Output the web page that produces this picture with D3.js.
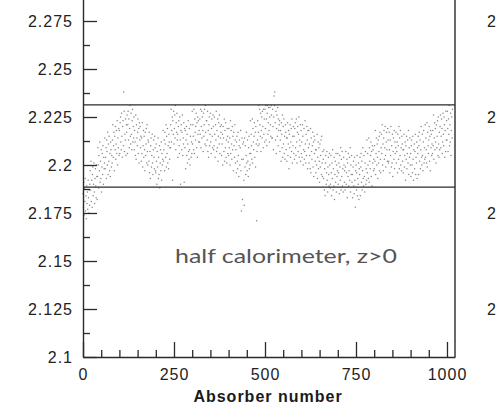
<!DOCTYPE html>
<html><head><meta charset="utf-8">
<script src="https://cdn.jsdelivr.net/npm/d3@7"></script>
<style>
html,body{margin:0;padding:0;background:#fff;overflow:hidden}
</style></head><body>
<script>
// ---- data ----
const xTickValues = [0, 250, 500, 750, 1000];
const xTickLabels = ["0", "250", "500", "750", "1000"];
const xMinorTicks = [50,100,150,200,300,350,400,450,550,600,650,700,800,850,900,950];
const yTickValues = [2.1, 2.125, 2.15, 2.175, 2.2, 2.225, 2.25, 2.275];
const yTickLabels = ["2.1", "2.125", "2.15", "2.175", "2.2", "2.225", "2.25", "2.275"];
const yMinorTicks = [2.1125, 2.1375, 2.1625, 2.1875, 2.2125, 2.2375, 2.2625, 2.2875];
const limitLines = [2.2313, 2.1885];
const xTitle = "Absorber number";
const note = "half calorimeter, z>0";
const neighbourTicks = [2.275, 2.225, 2.175, 2.125]; // cut-off labels of the next panel
// thickness per absorber (absorber number = index)
const thickness = [
2.185,2.178,2.191,2.174,2.188,2.181,2.193,2.176,2.184,2.172,2.189,2.180,2.186,2.177,2.192,2.183,2.175,2.187,2.179,2.190,
2.197,2.187,2.202,2.181,2.192,2.178,2.195,2.199,2.184,2.190,2.201,2.186,2.180,2.193,2.198,2.189,2.183,2.200,2.194,2.182,
2.194,2.209,2.200,2.188,2.205,2.197,2.212,2.191,2.202,2.193,2.208,2.186,2.199,2.206,2.195,2.210,2.190,2.204,2.198,2.201,
2.214,2.198,2.204,2.209,2.193,2.213,2.207,2.200,2.217,2.195,2.211,2.202,2.215,2.197,2.206,2.194,2.212,2.208,2.199,2.205,
2.201,2.213,2.221,2.204,2.210,2.217,2.197,2.215,2.208,2.220,2.203,2.211,2.218,2.206,2.223,2.200,2.214,2.209,2.219,2.205,
2.218,2.206,2.222,2.225,2.212,2.208,2.227,2.215,2.204,2.220,2.223,2.210,2.238,2.228,2.207,2.216,2.213,2.224,2.205,2.221,
2.217,2.226,2.206,2.221,2.228,2.213,2.224,2.209,2.219,2.231,2.215,2.211,2.227,2.216,2.208,2.223,2.229,2.212,2.220,2.214,
2.225,2.208,2.218,2.212,2.205,2.226,2.203,2.221,2.214,2.210,2.217,2.224,2.206,2.219,2.201,2.222,2.213,2.220,2.209,2.215,
2.202,2.214,2.206,2.222,2.199,2.210,2.218,2.204,2.215,2.208,2.197,2.217,2.205,2.211,2.219,2.201,2.221,2.207,2.200,2.213,
2.212,2.202,2.217,2.196,2.207,2.193,2.210,2.214,2.199,2.205,2.216,2.201,2.195,2.208,2.213,2.204,2.198,2.215,2.209,2.197,
2.196,2.211,2.202,2.190,2.207,2.199,2.214,2.193,2.204,2.195,2.210,2.188,2.201,2.208,2.197,2.212,2.192,2.206,2.200,2.203,
2.218,2.202,2.208,2.213,2.197,2.217,2.211,2.204,2.221,2.199,2.215,2.206,2.219,2.201,2.210,2.198,2.216,2.212,2.203,2.209,
2.209,2.221,2.229,2.212,2.218,2.225,2.192,2.223,2.216,2.228,2.211,2.219,2.226,2.214,2.231,2.208,2.222,2.217,2.227,2.213,
2.216,2.204,2.220,2.223,2.210,2.206,2.225,2.213,2.190,2.218,2.221,2.208,2.217,2.226,2.205,2.214,2.211,2.222,2.191,2.219,
2.209,2.218,2.198,2.213,2.220,2.205,2.216,2.201,2.211,2.223,2.207,2.203,2.219,2.208,2.200,2.215,2.221,2.204,2.212,2.206,
2.228,2.211,2.221,2.215,2.208,2.229,2.206,2.224,2.217,2.213,2.220,2.227,2.209,2.222,2.204,2.225,2.216,2.223,2.212,2.218,
2.212,2.224,2.216,2.229,2.209,2.220,2.228,2.214,2.225,2.218,2.207,2.227,2.215,2.221,2.229,2.211,2.231,2.217,2.210,2.223,
2.223,2.213,2.228,2.207,2.218,2.204,2.221,2.225,2.210,2.216,2.227,2.212,2.206,2.219,2.224,2.215,2.209,2.226,2.220,2.208,
2.210,2.225,2.216,2.204,2.221,2.213,2.228,2.207,2.218,2.209,2.224,2.202,2.215,2.222,2.211,2.226,2.206,2.220,2.214,2.217,
2.221,2.205,2.211,2.216,2.200,2.220,2.214,2.207,2.224,2.202,2.218,2.209,2.222,2.204,2.213,2.201,2.219,2.215,2.206,2.212,
2.205,2.219,2.209,2.214,2.200,2.223,2.206,2.218,2.211,2.203,2.220,2.208,2.215,2.197,2.217,2.210,2.204,2.221,2.213,2.201,
2.208,2.196,2.212,2.215,2.202,2.198,2.217,2.205,2.194,2.210,2.213,2.200,2.209,2.218,2.197,2.176,2.203,2.214,2.182,2.211,
2.203,2.212,2.192,2.179,2.214,2.199,2.210,2.195,2.205,2.217,2.201,2.197,2.213,2.202,2.194,2.209,2.215,2.198,2.206,2.200,
2.223,2.206,2.216,2.210,2.203,2.224,2.201,2.219,2.212,2.208,2.215,2.222,2.204,2.217,2.199,2.220,2.211,2.171,2.207,2.213,
2.223,2.210,2.217,2.231,2.211,2.229,2.221,2.215,2.227,2.207,2.218,2.225,2.214,2.228,2.220,2.209,2.229,2.216,2.224,2.212,
2.229,2.219,2.231,2.213,2.224,2.210,2.227,2.231,2.216,2.222,2.230,2.218,2.212,2.225,2.230,2.221,2.215,2.231,2.226,2.214,
2.214,2.229,2.220,2.208,2.225,2.236,2.231,2.238,2.222,2.213,2.228,2.206,2.219,2.226,2.215,2.230,2.210,2.224,2.218,2.221,
2.223,2.207,2.213,2.218,2.202,2.222,2.216,2.209,2.226,2.204,2.220,2.211,2.224,2.206,2.215,2.203,2.221,2.217,2.208,2.214,
2.202,2.214,2.222,2.205,2.211,2.218,2.198,2.216,2.209,2.221,2.204,2.212,2.219,2.207,2.224,2.201,2.215,2.210,2.220,2.206,
2.215,2.203,2.219,2.222,2.209,2.205,2.224,2.212,2.201,2.217,2.220,2.207,2.216,2.225,2.204,2.213,2.210,2.221,2.202,2.218,
2.206,2.212,2.204,2.221,2.215,2.200,2.208,2.219,2.203,2.207,2.223,2.211,2.201,2.216,2.205,2.220,2.213,2.198,2.218,2.209,
2.218,2.201,2.211,2.205,2.198,2.219,2.196,2.214,2.207,2.203,2.210,2.217,2.199,2.212,2.194,2.215,2.206,2.213,2.202,2.208,
2.196,2.208,2.200,2.216,2.193,2.204,2.212,2.198,2.209,2.202,2.191,2.211,2.199,2.205,2.213,2.195,2.215,2.201,2.194,2.207,
2.203,2.193,2.208,2.187,2.198,2.184,2.201,2.205,2.190,2.196,2.207,2.192,2.186,2.199,2.204,2.195,2.189,2.206,2.200,2.188,
2.190,2.205,2.196,2.184,2.201,2.193,2.208,2.187,2.198,2.189,2.204,2.182,2.195,2.202,2.191,2.206,2.186,2.200,2.194,2.197,
2.206,2.190,2.196,2.201,2.185,2.205,2.199,2.192,2.209,2.187,2.203,2.194,2.207,2.189,2.198,2.186,2.204,2.200,2.191,2.197,
2.187,2.199,2.207,2.190,2.196,2.203,2.183,2.201,2.194,2.206,2.189,2.197,2.204,2.192,2.209,2.186,2.200,2.195,2.205,2.191,
2.195,2.183,2.199,2.202,2.189,2.185,2.204,2.192,2.178,2.197,2.200,2.187,2.196,2.205,2.184,2.193,2.190,2.201,2.182,2.198,
2.195,2.204,2.184,2.199,2.206,2.191,2.202,2.187,2.197,2.209,2.193,2.189,2.205,2.194,2.186,2.201,2.207,2.190,2.198,2.192,
2.213,2.196,2.206,2.200,2.193,2.214,2.191,2.209,2.202,2.198,2.205,2.212,2.194,2.207,2.189,2.210,2.201,2.208,2.197,2.203,
2.198,2.210,2.202,2.218,2.195,2.206,2.214,2.200,2.211,2.204,2.193,2.213,2.201,2.207,2.215,2.197,2.217,2.203,2.196,2.209,
2.216,2.206,2.221,2.200,2.211,2.197,2.214,2.218,2.203,2.209,2.220,2.205,2.199,2.212,2.217,2.208,2.202,2.219,2.213,2.201,
2.202,2.217,2.208,2.196,2.213,2.205,2.220,2.199,2.210,2.201,2.216,2.194,2.207,2.214,2.203,2.218,2.198,2.212,2.206,2.209,
2.217,2.201,2.207,2.212,2.196,2.216,2.210,2.203,2.220,2.198,2.214,2.205,2.218,2.200,2.209,2.197,2.215,2.211,2.202,2.208,
2.196,2.208,2.216,2.199,2.205,2.212,2.192,2.210,2.203,2.215,2.198,2.206,2.213,2.201,2.218,2.195,2.209,2.204,2.214,2.200,
2.206,2.194,2.210,2.213,2.200,2.196,2.215,2.203,2.192,2.208,2.211,2.198,2.207,2.216,2.195,2.204,2.201,2.212,2.193,2.209,
2.206,2.215,2.195,2.210,2.217,2.202,2.213,2.198,2.208,2.220,2.204,2.200,2.216,2.205,2.197,2.212,2.218,2.201,2.209,2.203,
2.221,2.204,2.214,2.208,2.201,2.222,2.199,2.217,2.210,2.206,2.213,2.220,2.202,2.215,2.197,2.218,2.209,2.216,2.205,2.211,
2.206,2.218,2.210,2.226,2.203,2.214,2.222,2.208,2.219,2.212,2.201,2.221,2.209,2.215,2.223,2.205,2.225,2.211,2.204,2.217,
2.208,2.220,2.226,2.209,2.215,2.224,2.219,2.206,2.212,2.227,2.216,2.210,2.225,2.221,2.204,2.218,2.207,2.228,2.213,2.223,
2.213,2.228,2.219,2.207,2.224,2.216,2.231,2.210,2.221,2.212,2.227,2.205,2.218,2.225,2.214,2.229
];

// ---- drawing ----
const W = 499, H = 406;
const svg = d3.select("body").append("svg").attr("width", W).attr("height", H)
  .style("display", "block");

const x = d3.scaleLinear().domain([0, 1022]).range([83, 455]);
const y = d3.scaleLinear().domain([2.1, 2.3]).range([357, -27]);

const axisColor = "#2a2a2a";
const labelFont = "'Liberation Sans', Arial, Helvetica, sans-serif";

// points
svg.append("g").selectAll("circle").data(thickness).join("circle")
  .attr("cx", (d, i) => x(i))
  .attr("cy", d => y(d))
  .attr("r", 0.75)
  .attr("fill", "#888");

// limit lines
svg.append("g").selectAll("line").data(limitLines).join("line")
  .attr("x1", x(0)).attr("x2", x(1022))
  .attr("y1", d => y(d)).attr("y2", d => y(d))
  .attr("stroke", axisColor).attr("stroke-width", 1.3);

// right frame
svg.append("line")
  .attr("x1", x(1022)).attr("x2", x(1022))
  .attr("y1", y(2.3)).attr("y2", y(2.1))
  .attr("stroke", axisColor).attr("stroke-width", 1.4);

function styleAxis(g) {
  g.selectAll("path.domain").attr("stroke", axisColor).attr("stroke-width", 1.4);
  g.selectAll(".tick line").attr("stroke", axisColor).attr("stroke-width", 1.3);
  g.selectAll(".tick text")
    .attr("fill", "#222")
    .style("font-family", labelFont)
    .style("font-size", "16px")
    .style("letter-spacing", "1px");
}

// x axis major
const gx = svg.append("g").attr("transform", `translate(0,${y(2.1)})`)
  .call(d3.axisBottom(x).tickValues(xTickValues)
    .tickFormat((d, i) => xTickLabels[i])
    .tickSizeInner(-15).tickSizeOuter(0).tickPadding(12));
styleAxis(gx);
// x axis minor
const gxm = svg.append("g").attr("transform", `translate(0,${y(2.1)})`)
  .call(d3.axisBottom(x).tickValues(xMinorTicks).tickFormat("")
    .tickSizeInner(-7).tickSizeOuter(0));
gxm.select("path.domain").remove();
styleAxis(gxm);

// y axis major
const gy = svg.append("g").attr("transform", `translate(${x(0)},0)`)
  .call(d3.axisLeft(y).tickValues(yTickValues)
    .tickFormat((d, i) => yTickLabels[i])
    .tickSizeInner(-14).tickSizeOuter(0).tickPadding(10));
styleAxis(gy);
// y axis minor
const gym = svg.append("g").attr("transform", `translate(${x(0)},0)`)
  .call(d3.axisLeft(y).tickValues(yMinorTicks).tickFormat("")
    .tickSizeInner(-7).tickSizeOuter(0));
gym.select("path.domain").remove();
styleAxis(gym);

// x title
svg.append("text")
  .attr("x", 268).attr("y", 402)
  .attr("text-anchor", "middle")
  .attr("fill", "#1a1a1a")
  .style("font-family", labelFont)
  .style("font-size", "16px")
  .style("font-weight", "bold")
  .style("letter-spacing", "1px")
  .text(xTitle);

// annotation
svg.append("text")
  .attr("x", 175).attr("y", 263)
  .attr("fill", "#555")
  .attr("textLength", 222).attr("lengthAdjust", "spacingAndGlyphs")
  .style("font-family", "Lato, 'DejaVu Sans', sans-serif")
  .style("font-size", "19px")
  .style("font-weight", 400)
  .text(note);

// cut-off tick labels of the neighbouring panel
svg.append("g").selectAll("text").data(neighbourTicks).join("text")
  .attr("x", 487).attr("y", d => y(d)).attr("dy", "0.35em")
  .attr("fill", "#222")
  .style("font-family", labelFont)
  .style("font-size", "16px")
  .text("2");
</script>
</body></html>
